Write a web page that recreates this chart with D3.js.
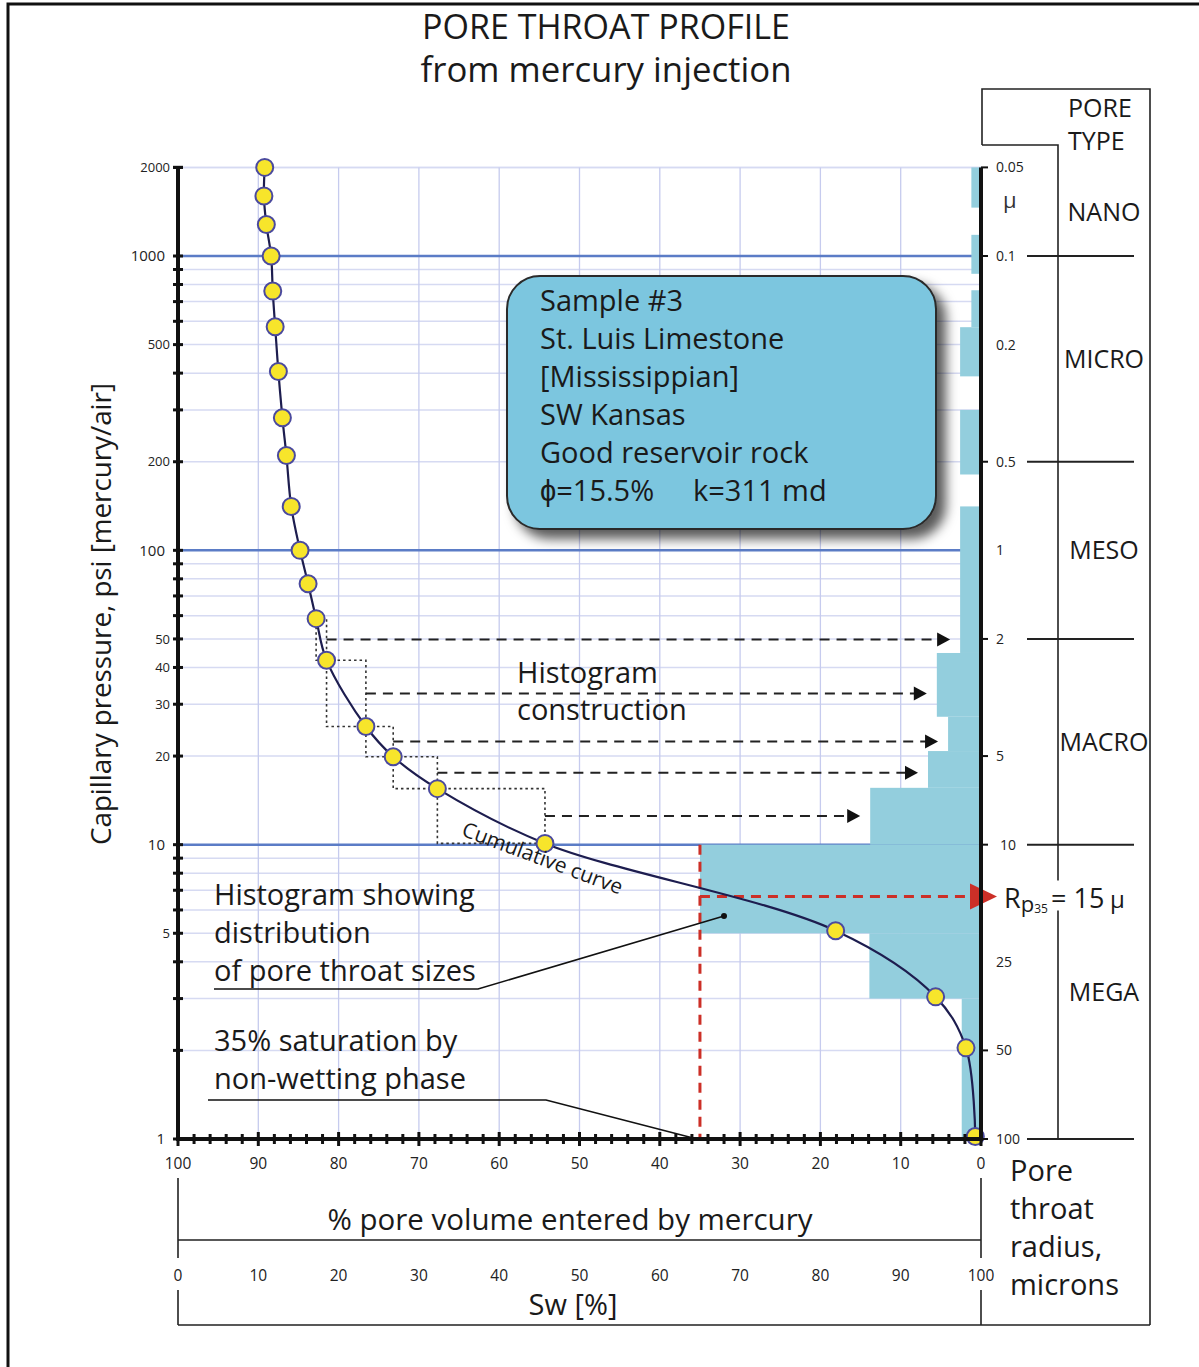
<!DOCTYPE html>
<html><head><meta charset="utf-8">
<script src="https://cdn.jsdelivr.net/npm/d3@7"></script>
<style>
html,body{margin:0;padding:0;background:#fff;}
svg{display:block;}
text{font-family:"Open Sans",sans-serif;fill:#1a1a1a;}
</style></head><body>
<svg id="chart" width="1199" height="1367"></svg>
<script>
// Mercury injection measurements: capillary pressure (psi) and % pore volume entered by mercury
const pressure = [2000,1600,1280,1000,760,575,405,282,210,141,100,77,58.6,42.3,25.2,19.9,15.5,10.1,5.1,3.04,2.04,1.02];
const hgSat    = [89.2,89.3,89.0,88.4,88.2,87.9,87.5,87.0,86.5,85.9,84.8,83.8,82.8,81.5,76.6,73.2,67.7,54.3,18.1,5.65,1.87,0.71];

// Pore throat size histogram: pressure bin edges (psi) and incremental pore volume (%)
const binTop    = [2000,1180,765,573,300,141,44.8,27.2,20.8,15.6,10,5,3];
const binBottom = [1460,870,573,390,181,44.8,27.2,20.8,15.6,10,5,3,1];
const binVolume = [1.2,1.2,1.2,2.6,2.6,2.6,5.5,4.1,6.6,13.8,35,13.9,2.4];

// Histogram construction steps: pair of injection points -> histogram bin
const stepFrom = [12,13,14,15,16];
const stepTo   = [13,14,15,16,17];
const stepBin  = [5,6,7,8,9];

// Axis ticks
const pressureLabels = [2000,1000,500,200,100,50,40,30,20,10,5,1];
const pressureMajor  = [1000,100,10];
const pctTicks = d3.range(0,101,10);
const radiusLabels = ["0.05","0.1","0.2","0.5","1","2","5","10","25","50","100"];
const radiusTicks  = [0.05,0.1,0.5,2,5,10,50,100];

// Pore type classes (radius, microns)
const classNames  = ["NANO","MICRO","MESO","MACRO","MEGA"];
const classEdges  = [0.05,0.1,0.5,2,10,100];

// Sample information
const sampleLines = ["Sample #3","St. Luis Limestone","[Mississippian]","SW Kansas","Good reservoir rock"];
const porosity = 15.5, permeability = 311;
const rp35 = 15, satRef = 35;

const svg = d3.select('#chart');
const x   = d3.scaleLinear().domain([100,0]).range([178,981]);   // % pore volume entered by mercury
const xSw = d3.scaleLinear().domain([0,100]).range([178,981]);   // water saturation
const y   = d3.scaleLog().domain([1,2000]).range([1139,167.4]);  // capillary pressure
const yR  = d3.scaleLog().domain([100,0.05]).range([1139,167.4]); // pore throat radius

const defs = svg.append('defs');
const sh = defs.append('filter').attr('id','shadow').attr('x','-10%').attr('y','-10%').attr('width','130%').attr('height','140%');
sh.append('feDropShadow').attr('dx',9).attr('dy',9).attr('stdDeviation',6).attr('flood-color','#000').attr('flood-opacity',0.65);

function txt(g, s, px, py, size, opts={}) {
  const t = g.append('text').attr('x',px).attr('y',py).attr('font-size',size).text(s);
  if (opts.anchor) t.attr('text-anchor',opts.anchor);
  if (opts.len) t.attr('textLength',opts.len).attr('lengthAdjust','spacingAndGlyphs');
  if (opts.dy) t.attr('dy',opts.dy);
  if (opts.fill) t.style('fill',opts.fill);
  return t;
}

// outer frame
svg.append('path').attr('d','M8,1367V4H1199').attr('fill','none').attr('stroke','#111').attr('stroke-width',3);

// titles
txt(svg,'PORE THROAT PROFILE',606,39,34,{anchor:'middle',len:368});
txt(svg,'from mercury injection',606,82,34,{anchor:'middle',len:371});

// grid
const grid = svg.append('g');
const gridVals = [];
for (const d of [1,10,100,1000]) for (let k=1;k<=9;k++){ const v=k*d; if (v<=2000) gridVals.push(v); }
gridVals.push(2000);
grid.selectAll('line.h').data(gridVals.filter(v=>v>1 && !pressureMajor.includes(v))).join('line')
  .attr('x1',x(100)).attr('x2',x(0)).attr('y1',d=>y(d)).attr('y2',d=>y(d))
  .attr('stroke','#d6daf2').attr('stroke-width',1.5);
grid.selectAll('line.v').data(d3.range(10,100,10)).join('line')
  .attr('x1',d=>x(d)).attr('x2',d=>x(d)).attr('y1',y(2000)).attr('y2',y(1))
  .attr('stroke','#c6cbee').attr('stroke-width',1.3);
grid.selectAll('line.m').data(pressureMajor).join('line')
  .attr('x1',x(100)).attr('x2',x(0)).attr('y1',d=>y(d)).attr('y2',d=>y(d))
  .attr('stroke','#5b7cc6').attr('stroke-width',2.5);

// histogram
svg.append('g').selectAll('rect').data(binVolume).join('rect')
  .attr('x',(d)=>x(d)).attr('width',d=>x(0)-x(d))
  .attr('y',(d,i)=>y(binTop[i])).attr('height',(d,i)=>y(binBottom[i])-y(binTop[i]))
  .attr('fill','#93cedd');

// histogram construction
const cons = svg.append('g');
stepFrom.forEach((a,i)=>{
  const b = stepTo[i];
  const x0=x(hgSat[a]), y0=y(pressure[a]), x1=x(hgSat[b]), y1=y(pressure[b]);
  cons.append('rect').attr('x',x0).attr('y',y0).attr('width',x1-x0).attr('height',y1-y0)
    .attr('fill','none').attr('stroke','#333').attr('stroke-width',1.6).attr('stroke-dasharray','2.5,3');
  const ym=(y0+y1)/2, tip=x(binVolume[stepBin[i]])-10;
  cons.append('line').attr('x1',x1).attr('x2',tip-12).attr('y1',ym).attr('y2',ym)
    .attr('stroke','#222').attr('stroke-width',2).attr('stroke-dasharray','10,7');
  cons.append('path').attr('d',`M${tip},${ym}L${tip-13},${ym-7}L${tip-13},${ym+7}Z`).attr('fill','#111');
});

// Rp35 guides
const red='#cc2f27';
svg.append('line').attr('x1',x(satRef)).attr('x2',x(satRef)).attr('y1',y(10)).attr('y2',y(1))
  .attr('stroke',red).attr('stroke-width',3).attr('stroke-dasharray','10,7');
svg.append('line').attr('x1',x(satRef)).attr('x2',x(0)-12).attr('y1',yR(rp35)).attr('y2',yR(rp35))
  .attr('stroke',red).attr('stroke-width',3).attr('stroke-dasharray','10,7');
{
  const ty=yR(rp35);
  svg.append('path').attr('d',`M${x(0)+16},${ty}L${x(0)-11},${ty-13}L${x(0)-11},${ty+13}Z`).attr('fill',red);
}

// cumulative curve
const pts = pressure.map((p,i)=>[x(hgSat[i]),y(p)]);
svg.append('path').attr('d',d3.line().curve(d3.curveCatmullRom.alpha(0.5))(pts))
  .attr('fill','none').attr('stroke','#1d1d4f').attr('stroke-width',2.2);
svg.append('g').selectAll('circle').data(pts).join('circle')
  .attr('cx',d=>d[0]).attr('cy',d=>d[1]).attr('r',8.5)
  .attr('fill','#f7e52b').attr('stroke','#4b4a9e').attr('stroke-width',2);

txt(svg,'Cumulative curve',0,0,21,{anchor:'middle'}).attr('transform','translate(540,865) rotate(20.5)');

// sample information box
const box = svg.append('g');
box.append('rect').attr('x',507).attr('y',276).attr('width',429).attr('height',253).attr('rx',33)
  .attr('fill','#7cc6df').attr('stroke','#2a2a2a').attr('stroke-width',2).attr('filter','url(#shadow)');
sampleLines.forEach((s,i)=>txt(box,s,540,311+i*38,29));
txt(box,'\u03D5='+porosity+'%',540,311+5*38,29);
txt(box,'k='+permeability+' md',693,311+5*38,29);

// annotations
txt(svg,'Histogram',517,683,29);
txt(svg,'construction',517,720,29);
['Histogram showing','distribution','of pore throat sizes'].forEach((s,i)=>txt(svg,s,214,905+i*38,29));
['35% saturation by','non-wetting phase'].forEach((s,i)=>txt(svg,s,214,1051+i*38,29));
svg.append('path').attr('d','M214,989H478L724,916').attr('fill','none').attr('stroke','#111').attr('stroke-width',1.6);
svg.append('circle').attr('cx',724).attr('cy',916).attr('r',3).attr('fill','#111');
svg.append('path').attr('d',`M208,1100H546L${x(satRef)-3},${y(1)}`).attr('fill','none').attr('stroke','#111').attr('stroke-width',1.6);

// left axis
const ax = svg.append('g');
ax.append('line').attr('x1',178).attr('x2',178).attr('y1',y(2000)).attr('y2',y(1)+2).attr('stroke','#111').attr('stroke-width',4);
ax.selectAll('line.t').data(gridVals).join('line')
  .attr('x1',173).attr('x2',183).attr('y1',d=>y(d)).attr('y2',d=>y(d)).attr('stroke','#111').attr('stroke-width',3);
pressureLabels.forEach(v=>{
  const maj = pressureMajor.includes(v) || v===1;
  txt(ax,String(v),maj?165:170,y(v),maj?15:13,{anchor:'end',dy:'0.36em',fill:'#222'});
});
txt(ax,'Capillary pressure, psi [mercury/air]',0,0,28,{anchor:'middle',len:462}).attr('transform','translate(111,614) rotate(-90)');

// bottom axis
ax.append('line').attr('x1',176).attr('x2',983).attr('y1',y(1)).attr('y2',y(1)).attr('stroke','#111').attr('stroke-width',4);
ax.selectAll('line.b').data(d3.range(0,101,2)).join('line')
  .attr('x1',d=>x(d)).attr('x2',d=>x(d))
  .attr('y1',d=>y(1)-(d%10===0?7:5)).attr('y2',d=>y(1)+(d%10===0?7:5))
  .attr('stroke','#111').attr('stroke-width',3);
pctTicks.forEach(v=>txt(ax,String(v),x(v),1169,15.5,{anchor:'middle',fill:'#222'}));
pctTicks.forEach(v=>txt(ax,String(v),xSw(v),1281,15.5,{anchor:'middle',fill:'#222'}));
txt(ax,'% pore volume entered by mercury',570,1230,29,{anchor:'middle',len:485});
txt(ax,'Sw [%]',573,1315,29,{anchor:'middle'});
const brk = 'M178,1178V1258M178,1290V1325M981,1178V1258M981,1290V1325M178,1240H981M178,1325H1150';
ax.append('path').attr('d',brk).attr('fill','none').attr('stroke','#222').attr('stroke-width',1.6);

// right axis: pore throat radius
ax.append('line').attr('x1',981).attr('x2',981).attr('y1',yR(0.05)).attr('y2',yR(100)+2).attr('stroke','#111').attr('stroke-width',4);
ax.selectAll('line.r').data(radiusTicks).join('line')
  .attr('x1',981).attr('x2',988).attr('y1',d=>yR(d)).attr('y2',d=>yR(d)).attr('stroke','#111').attr('stroke-width',2);
radiusLabels.forEach(s=>txt(ax,s,s==='10'?1000:996,yR(+s),14,{dy:'0.36em',fill:'#222'}));
txt(ax,'\u03BC',1003,208,22,{fill:'#333'});
['Pore','throat','radius,','microns'].forEach((s,i)=>txt(ax,s,1010,1181+i*38,29));

// pore type column
ax.append('path').attr('d','M982,145V89H1150V1325M982,145H1058V1139').attr('fill','none').attr('stroke','#222').attr('stroke-width',1.6);
txt(ax,'PORE',1068,117,25);
txt(ax,'TYPE',1068,150,25);
ax.selectAll('line.c').data(classEdges.slice(1)).join('line')
  .attr('x1',1027).attr('x2',1134).attr('y1',d=>yR(d)).attr('y2',d=>yR(d)).attr('stroke','#222').attr('stroke-width',2);
classNames.forEach((s,i)=>txt(ax,s,1104,yR(Math.sqrt(classEdges[i]*classEdges[i+1]))+9,25,{anchor:'middle'}));

// Rp35 label: R with subscript p and 35
{
  const ty=yR(rp35);
  const g=svg.append('g');
  g.append('rect').attr('x',1046).attr('y',ty-16).attr('width',60).attr('height',30).attr('fill','#fff');
  const t=g.append('text').attr('x',1004).attr('y',ty+12).attr('font-size',27);
  t.append('tspan').text('R');
  t.append('tspan').attr('dy',4).attr('font-size',22).text('p');
  t.append('tspan').attr('dy',1).attr('font-size',12).text('35');
  t.append('tspan').attr('x',1051).attr('dy',-5).text('= '+rp35);
  t.append('tspan').attr('x',1110).attr('font-size',24).text('\u03BC');
}
</script>
</body></html>
